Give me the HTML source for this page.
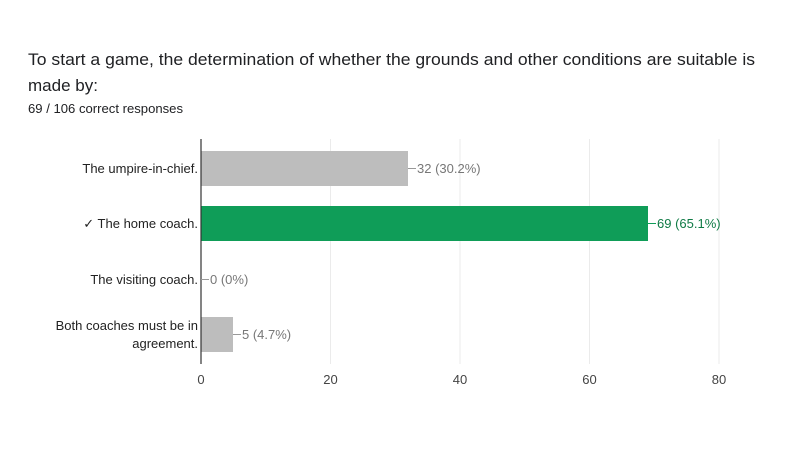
<!DOCTYPE html>
<html><head><meta charset="utf-8"><style>
body{margin:0;width:800px;height:450px;background:#fff;overflow:hidden;font-family:"Liberation Sans",Roboto,sans-serif}
</style></head><body>
<svg width="800" height="450" xmlns="http://www.w3.org/2000/svg" font-family="Liberation Sans, sans-serif">
<text x="28" y="65" font-size="17" fill="#202124" textLength="727" lengthAdjust="spacingAndGlyphs">To start a game, the determination of whether the grounds and other conditions are suitable is</text>
<text x="28" y="91" font-size="17" fill="#202124">made by:</text>
<text x="28" y="113" font-size="12.5" fill="#202124" textLength="155" lengthAdjust="spacingAndGlyphs">69 / 106 correct responses</text>
<g stroke="#ebebeb" stroke-width="1">
<line x1="330.5" y1="139" x2="330.5" y2="364"/>
<line x1="460" y1="139" x2="460" y2="364"/>
<line x1="589.5" y1="139" x2="589.5" y2="364"/>
<line x1="719" y1="139" x2="719" y2="364"/>
</g>
<rect x="201" y="151" width="207" height="35" fill="#bdbdbd"/>
<rect x="201" y="206" width="447" height="35" fill="#0f9d58"/>
<rect x="201" y="317" width="32" height="35" fill="#bdbdbd"/>
<line x1="201" y1="139" x2="201" y2="364" stroke="#333" stroke-width="1.2"/>
<g font-size="13" fill="#222" text-anchor="end">
<text x="198" y="173">The umpire-in-chief.</text>
<text x="198" y="228">✓ The home coach.</text>
<text x="198" y="284">The visiting coach.</text>
<text x="198" y="330">Both coaches must be in</text>
<text x="198" y="348">agreement.</text>
</g>
<g font-size="13">
<line x1="408" y1="168.5" x2="416" y2="168.5" stroke="#999"/><text x="417" y="173" fill="#777">32 (30.2%)</text>
<line x1="648" y1="223.5" x2="656" y2="223.5" stroke="#0f9d58"/><text x="657" y="228" fill="#0f7a45">69 (65.1%)</text>
<line x1="201" y1="279.5" x2="209" y2="279.5" stroke="#999"/><text x="210" y="284" fill="#777">0 (0%)</text>
<line x1="233" y1="334.5" x2="241" y2="334.5" stroke="#999"/><text x="242" y="339" fill="#777">5 (4.7%)</text>
</g>
<g font-size="13" fill="#444" text-anchor="middle">
<text x="201" y="384">0</text><text x="330.5" y="384">20</text><text x="460" y="384">40</text><text x="589.5" y="384">60</text><text x="719" y="384">80</text>
</g>
</svg>
</body></html>
